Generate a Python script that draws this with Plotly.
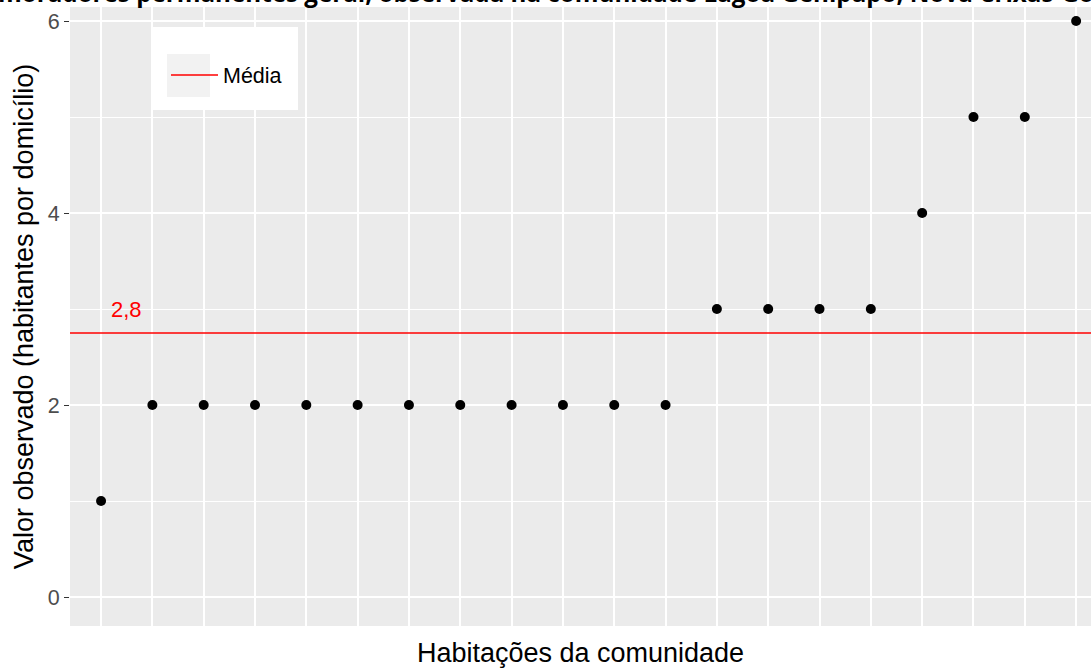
import plotly.graph_objects as go

# Moradores por domicílio, em ordem crescente
habitacoes = list(range(1, 21))
moradores = [1, 2, 2, 2, 2, 2, 2, 2, 2, 2, 2, 2, 3, 3, 3, 3, 4, 5, 5, 6]
y_ticks = [0, 2, 4, 6]

media = sum(moradores) / len(moradores)
rotulo_media = f"{media:.1f}".replace(".", ",")

titulo = ("moradores permanentes geral, observada na comunidade "
          "Lagoa Genipapo, Nova Crixás-Goiás")

x_range = [0.395, 20.29]
y_range = [-0.302, 6.146]

PANEL = "#EBEBEB"
FONT = "Liberation Sans, Arial, sans-serif"

fig = go.Figure()

# linha da média
fig.add_trace(go.Scatter(
    x=x_range, y=[media, media], mode="lines", name="Média",
    line=dict(color="#FF0000", width=1.6), showlegend=True,
))

# valores observados
fig.add_trace(go.Scatter(
    x=habitacoes, y=moradores, mode="markers", showlegend=False,
    marker=dict(color="black", size=10, line=dict(width=0)),
))

fig.add_annotation(
    x=1.5, y=3, xref="x", yref="y", text=rotulo_media, showarrow=False,
    font=dict(color="#FF0000", size=22, family=FONT),
)

fig.add_annotation(
    x=0, y=1, xref="paper", yref="paper", xanchor="left", yanchor="bottom",
    xshift=-74, yshift=-4, text=f"<b>{titulo}</b>", showarrow=False,
    font=dict(color="black", size=24.2, family="Open Sans, sans-serif"),
)

# caixa da legenda e fundo da chave
fig.add_shape(type="rect", xref="paper", yref="paper", layer="above",
              x0=(153 - 70) / 1021, x1=(298 - 70) / 1021,
              y0=1 - (110 - 7) / 619, y1=1 - (27 - 7) / 619,
              fillcolor="white", line=dict(width=0))
fig.add_shape(type="rect", xref="paper", yref="paper", layer="above",
              x0=(167 - 70) / 1021, x1=(210 - 70) / 1021,
              y0=1 - (97 - 7) / 619, y1=1 - (54 - 7) / 619,
              fillcolor="#F2F2F2", line=dict(width=0))

fig.update_layout(
    width=1091, height=668,
    margin=dict(l=70, r=0, t=7, b=42),
    paper_bgcolor="white", plot_bgcolor=PANEL,
    font=dict(family=FONT, color="black"),
    legend=dict(
        x=(166 - 70) / 1021, y=1 - (75 - 7) / 619, xanchor="left", yanchor="middle",
        itemwidth=47,
        bgcolor="rgba(0,0,0,0)", font=dict(size=21.5, color="black", family=FONT),
    ),
    xaxis=dict(
        range=x_range, tickvals=habitacoes, showticklabels=False, ticks="",
        showgrid=True, gridcolor="white", gridwidth=1.5, zeroline=False,
        showline=False,
        title=dict(text="Habitações da comunidade", standoff=22,
                   font=dict(size=27, color="black")),
    ),
    yaxis=dict(
        range=y_range, tickvals=y_ticks, ticktext=[str(v) for v in y_ticks],
        ticks="outside", ticklen=5, tickwidth=1.2, tickcolor="#333333",
        tickfont=dict(size=21.5, color="#4D4D4D"),
        showgrid=True, gridcolor="white", gridwidth=1.5, zeroline=False,
        showline=False,
        minor=dict(dtick=1, tick0=0, showgrid=True, gridcolor="white", gridwidth=0.7),
        title=dict(text="Valor observado (habitantes por domicílio)", standoff=6,
                   font=dict(size=27, color="black")),
    ),
)

fig.write_html("out.html")
